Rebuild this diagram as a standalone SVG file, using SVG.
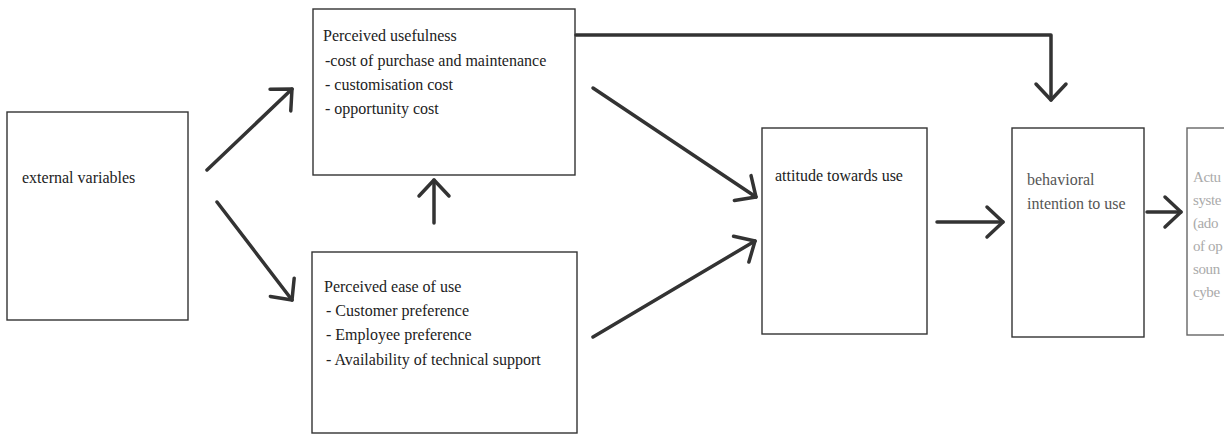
<svg xmlns="http://www.w3.org/2000/svg" width="1224" height="436" viewBox="0 0 1224 436">
<style>
.box{fill:#fff;stroke:#333;stroke-width:1.4}
text{font-family:'Liberation Serif','DejaVu Serif','Times New Roman',serif;font-size:16px}
.t{fill:#222}
.tg{fill:#555}
.tl{fill:#aaa;font-size:15px;letter-spacing:-0.4px}
.c{fill:none;stroke:#333;stroke-width:3.5;stroke-linecap:round;stroke-linejoin:round}
</style>
<defs>
<marker id="ah" viewBox="0 0 30 36" refX="26" refY="18" markerWidth="30" markerHeight="36" markerUnits="userSpaceOnUse" orient="auto" overflow="visible">
<path d="M10,3 L26,18 L10,33" fill="none" stroke="#333" stroke-width="3.5" stroke-linecap="round" stroke-linejoin="round"/>
</marker>
</defs>
<rect width="1224" height="436" fill="#fff"/>
<g id="external">
<rect class="box" x="7" y="112" width="181" height="208"/>
<text class="t" x="22" y="183">external variables</text>
</g>
<g id="usefulness">
<rect class="box" x="313" y="9" width="262" height="166"/>
<text class="t" x="323" y="41">Perceived usefulness</text>
<text class="t" x="325" y="66">-cost of purchase and maintenance</text>
<text class="t" x="325" y="90">- customisation cost</text>
<text class="t" x="325" y="114">- opportunity cost</text>
</g>
<g id="ease">
<rect class="box" x="312" y="252" width="265" height="181"/>
<text class="t" x="324" y="292">Perceived ease of use</text>
<text class="t" x="326" y="316">- Customer preference</text>
<text class="t" x="326" y="340">- Employee preference</text>
<text class="t" x="326" y="365">- Availability of technical support</text>
</g>
<g id="attitude">
<rect class="box" x="762" y="128" width="165" height="206"/>
<text class="t" x="775" y="181">attitude towards use</text>
</g>
<g id="intention">
<rect class="box" x="1012" y="128" width="132" height="209"/>
<text class="tg" x="1027" y="185">behavioral</text>
<text class="tg" x="1027" y="209">intention to use</text>
</g>
<g id="actual">
<rect class="box" x="1187" y="128" width="45" height="207" style="stroke:#666"/>
<text class="tl" x="1193" y="182">Actu</text>
<text class="tl" x="1193" y="205">syste</text>
<text class="tl" x="1193" y="228">(ado</text>
<text class="tl" x="1193" y="251">of op</text>
<text class="tl" x="1193" y="274">soun</text>
<text class="tl" x="1193" y="297">cybe</text>
</g>
<g id="connectors">
<line class="c" x1="207" y1="170" x2="292" y2="89" marker-end="url(#ah)"/>
<line class="c" x1="217" y1="202" x2="292" y2="300" marker-end="url(#ah)"/>
<line class="c" x1="434" y1="223" x2="434" y2="180" marker-end="url(#ah)"/>
<line class="c" x1="593" y1="88" x2="756" y2="197" marker-end="url(#ah)"/>
<line class="c" x1="593" y1="337" x2="755" y2="241" marker-end="url(#ah)"/>
<line class="c" x1="937" y1="222" x2="1003" y2="222" marker-end="url(#ah)"/>
<line class="c" x1="1147" y1="212" x2="1181" y2="212" marker-end="url(#ah)"/>
<polyline class="c" points="576,35 1051,35 1051,100" marker-end="url(#ah)"/>
</g>
</svg>
